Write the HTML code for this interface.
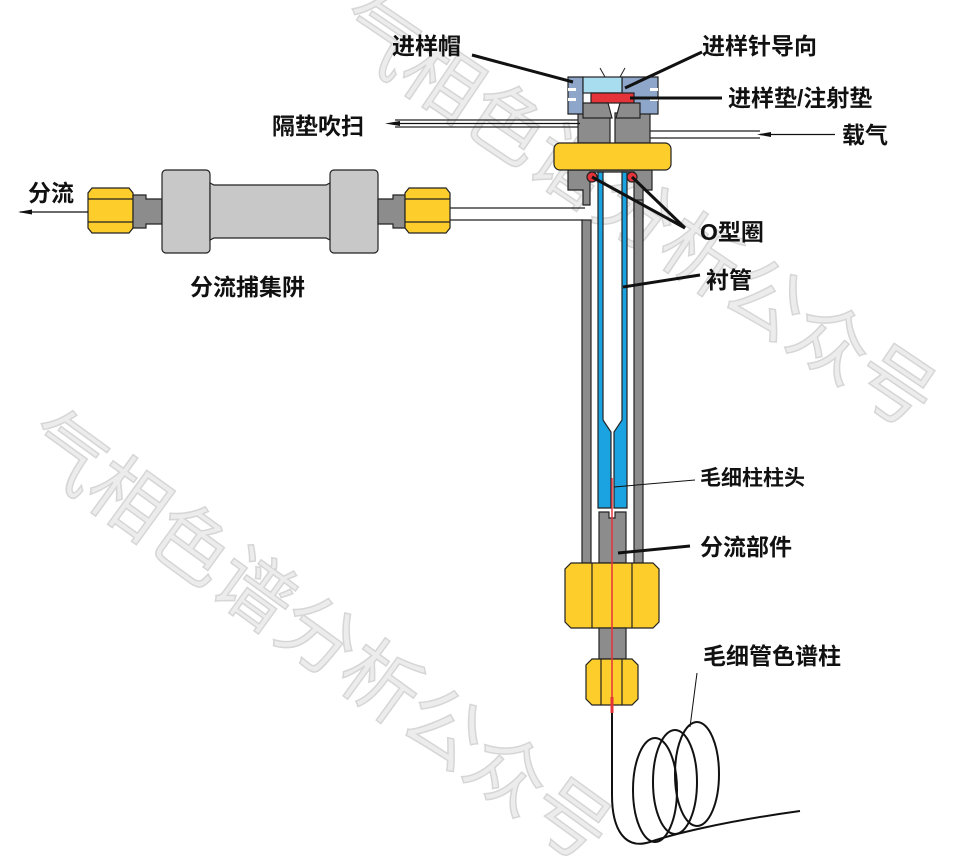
<!DOCTYPE html><html><head><meta charset="utf-8"><style>
html,body{margin:0;padding:0;background:#fff}
svg{display:block}
text{font-family:"Liberation Sans","Noto Sans CJK SC",sans-serif;font-weight:bold;fill:#111}
.wm{font-weight:normal;fill:#ececec;stroke:#d6d6d6;stroke-width:1.5;font-size:78px}
</style></head><body>
<svg width="962" height="862" viewBox="0 0 962 862" xmlns="http://www.w3.org/2000/svg">
<!-- watermarks -->
<text class="wm" transform="translate(330,38) rotate(34)">气相色谱分析公众号</text>
<text class="wm" transform="translate(18,452) rotate(36)">气相色谱分析公众号</text>

<g stroke="#222" stroke-width="1.2">
<!-- side tubes -->
<line x1="395" y1="120" x2="580" y2="120"/><line x1="395" y1="127" x2="580" y2="127"/>
<line x1="648" y1="131" x2="760" y2="131"/><line x1="648" y1="138" x2="760" y2="138"/>
<line x1="450" y1="208" x2="585" y2="208"/><line x1="450" y1="220" x2="583" y2="220"/>
<!-- housing below nut -->
<path d="M568 170 H652 V190 H643 V217 H634 V172 H590 V205 H583 V190 H568 Z" fill="#8c8c8c"/>
<!-- walls -->
<rect x="582" y="220" width="9" height="343" fill="#8c8c8c"/>
<rect x="634" y="200" width="9" height="363" fill="#8c8c8c"/>
<!-- top body -->
<path d="M578 113 H610 V143 H578 Z" fill="#8c8c8c"/>
<path d="M615 113 H650 V143 H615 Z" fill="#8c8c8c"/>
<!-- septum cap -->
<path d="M568 77 H583 V114 H568 Z" fill="#8da6c9"/>
<path d="M622 77 H658 V114 H622 Z" fill="#8da6c9"/>
<rect x="583" y="77" width="39" height="16" fill="#a8dcef"/>
<rect x="591" y="93" width="43" height="10" fill="#e5333a"/>
<path d="M583 103 H608 L612 118 H583 Z M616 118 L620 103 H640 V118 Z" fill="#8c8c8c"/>
<path d="M605 77 L600 68 M620 77 L625 68" stroke-width="1"/>
</g>
<g fill="#fff">
<rect x="568" y="88" width="8" height="3"/><rect x="568" y="98" width="8" height="3"/>
<rect x="650" y="88" width="8" height="3"/><rect x="650" y="98" width="8" height="3"/>
</g>
<g stroke="#222" stroke-width="1.2">
<!-- yellow big top nut -->
<rect x="554" y="143" width="117" height="27" rx="6" fill="#fdce2b"/>
<!-- liner -->
<path d="M598 172 H603 V420 L611 432 V508 H598 Z" fill="#1aa3e0"/>
<path d="M622 172 H627 V508 H614 V432 L622 420 Z" fill="#1aa3e0"/>
<!-- orings -->
<circle cx="592" cy="177" r="5" fill="#e5333a"/><circle cx="632" cy="177" r="5" fill="#e5333a"/>
<!-- split part -->
<path d="M599 512 H609 V518 H615 V512 H626 V563 H599 Z" fill="#8c8c8c"/>
<!-- big nut -->
<path d="M571 563 H653 L659 569 V622 L653 628 H571 L565 622 V569 Z" fill="#fdce2b"/>
<line x1="592" y1="563" x2="592" y2="628"/><line x1="632" y1="563" x2="632" y2="628"/>
<rect x="599" y="628" width="27" height="31" fill="#8c8c8c"/>
<path d="M592 659 H632 L638 665 V699 L632 705 H592 L586 699 V665 Z" fill="#fdce2b"/>
<line x1="601" y1="659" x2="601" y2="705"/><line x1="622" y1="659" x2="622" y2="705"/>
<!-- trap -->
<path d="M92 188 H129 L133 193 V228 L129 233 H92 L88 228 V193 Z" fill="#fdce2b"/>
<line x1="88" y1="199" x2="133" y2="199"/><line x1="88" y1="222" x2="133" y2="222"/>
<path d="M133 195 H146 V199 H162 V224 H146 V228 H133 Z" fill="#8c8c8c"/>
<rect x="162" y="170" width="48" height="83" rx="4" fill="#c8c8c8"/>
<path d="M210 183 L214 185 H326 L330 183 V240 L326 238 H214 L210 240 Z" fill="#c8c8c8"/>
<rect x="330" y="170" width="48" height="83" rx="4" fill="#c8c8c8"/>
<path d="M378 199 H393 V195 H405 V228 H393 V224 H378 Z" fill="#8c8c8c"/>
<path d="M409 188 H446 L450 193 V228 L446 233 H409 L405 228 V193 Z" fill="#fdce2b"/>
<line x1="405" y1="199" x2="450" y2="199"/><line x1="405" y1="222" x2="450" y2="222"/>
</g>
<!-- red column line -->
<line x1="612" y1="478" x2="612" y2="700" stroke="#e5333a" stroke-width="1.5"/>
<line x1="612" y1="697" x2="612" y2="713" stroke="#e5333a" stroke-width="3"/>
<!-- coil -->
<g fill="none" stroke="#111" stroke-width="2">
<path d="M612 713 V795 C612 830 625 850 650 842 C670 835 720 822 800 811"/>
<ellipse cx="655" cy="790" rx="22" ry="52"/>
<ellipse cx="675" cy="782" rx="22" ry="52"/>
<ellipse cx="697" cy="774" rx="22" ry="52"/>
</g>
<!-- leaders -->
<g stroke="#111" fill="none">
<line x1="472" y1="55" x2="573" y2="82" stroke-width="3"/>
<line x1="702" y1="52" x2="625" y2="88" stroke-width="3"/>
<line x1="630" y1="98" x2="722" y2="98" stroke-width="3"/>
<line x1="592" y1="177" x2="685" y2="228" stroke-width="3"/>
<line x1="632" y1="177" x2="685" y2="228" stroke-width="3"/>
<line x1="623" y1="287" x2="700" y2="275" stroke-width="3"/>
<line x1="614" y1="487" x2="695" y2="480" stroke-width="1"/>
<line x1="618" y1="553" x2="690" y2="546" stroke-width="3"/>
<line x1="697" y1="673" x2="690" y2="727" stroke-width="1"/>
<line x1="395" y1="123.5" x2="580" y2="123.5" stroke-width="1.2"/>
<line x1="20" y1="212" x2="88" y2="212" stroke-width="1.2"/>
<line x1="760" y1="134.5" x2="835" y2="134.5" stroke-width="1.2"/>
</g>
<path d="M385 123.5 L400 121 L400 126 Z" fill="#111"/>
<path d="M18 212 L32 209.5 L32 214.5 Z" fill="#111"/>
<path d="M757 134.5 L771 132 L771 137 Z" fill="#111"/>
<!-- labels -->
<g font-size="23">
<text x="392" y="54">进样帽</text>
<text x="702" y="54">进样针导向</text>
<text x="728" y="106">进样垫/注射垫</text>
<text x="272" y="134">隔垫吹扫</text>
<text x="842" y="143">载气</text>
<text x="28" y="201">分流</text>
<text x="700" y="240">O型圈</text>
<text x="706" y="288">衬管</text>
<text x="190" y="295">分流捕集阱</text>
<text x="700" y="555">分流部件</text>
<text x="703" y="664">毛细管色谱柱</text>
</g>
<text x="700" y="485" font-size="21">毛细柱柱头</text>
</svg>
</body></html>
